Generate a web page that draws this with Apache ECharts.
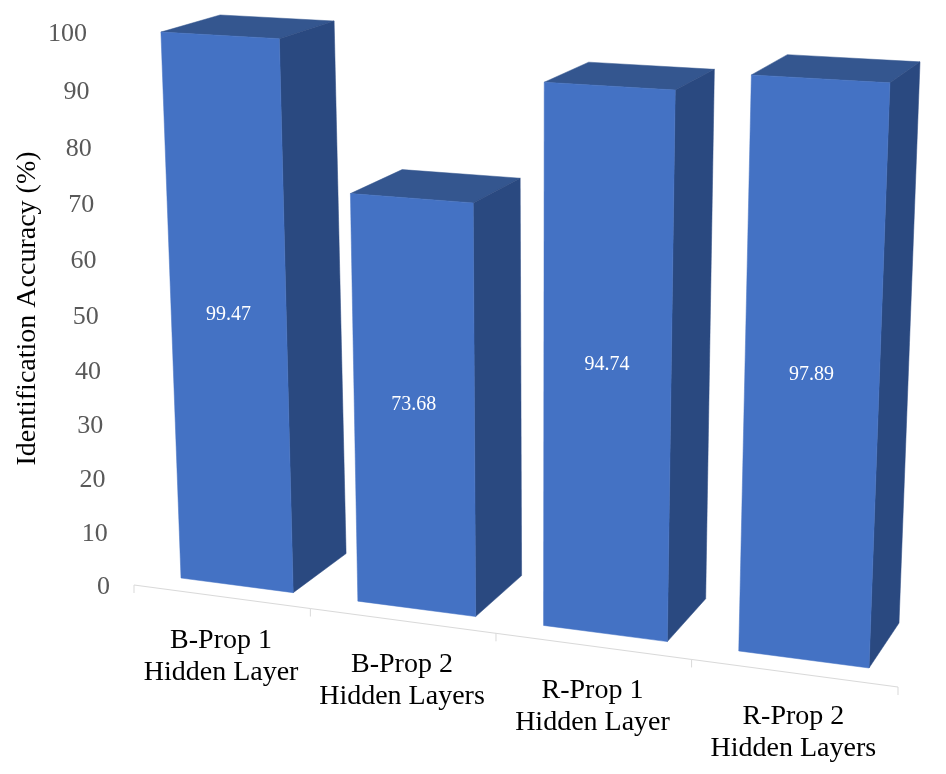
<!DOCTYPE html>
<html>
<head>
<meta charset="utf-8">
<style>html,body{margin:0;padding:0;background:#fff}#chart{width:946px;height:774px}</style>
<script src="https://cdn.jsdelivr.net/npm/echarts@6/dist/echarts.min.js"></script>
</head>
<body>
<div id="chart"></div>
<script>
// ---- data ----
const categories = ['B-Prop 1\nHidden Layer', 'B-Prop 2\nHidden Layers', 'R-Prop 1\nHidden Layer', 'R-Prop 2\nHidden Layers'];
const accuracy = [99.47, 73.68, 94.74, 97.89];
const yTicks = [0, 10, 20, 30, 40, 50, 60, 70, 80, 90, 100];
const yTitle = 'Identification Accuracy (%)';

// ---- scene: how the flat grid is seen in perspective ----
const GRID = {left: 60, top: 32, width: 846, height: 553};
const BAR_SHARE = 0.64;            // bar width as a share of one category cell
const LAST_EDGE = 3 + BAR_SHARE;
const FONT = '"Liberation Serif","Times New Roman",serif';
// planes given by corners: (u=0,v=0), (u=end,v=0), (u=end,v=100), (u=0,v=100)
const frontPlane = quad([[181,578],[869,668],[890.4,69.4],[160.8,29]]);
const backPlane  = quad([[238,540],[899,623],[920.5,49],[220,12]]);
// axis rim: a line along the floor and a line up the value labels, with foreshortening
const RIM = {a:[134,585], b:[898,687], k:-0.0996};
const VALS = {a:[110,587], b:[87,34], k:-0.047};

function quad(p){
  const [[x0,y0],[x1,y1],[x2,y2],[x3,y3]] = p;
  const dx1=x1-x2, dx2=x3-x2, sx=x0-x1+x2-x3, dy1=y1-y2, dy2=y3-y2, sy=y0-y1+y2-y3;
  const den=dx1*dy2-dx2*dy1, g=(sx*dy2-dx2*sy)/den, h=(dx1*sy-sx*dy1)/den;
  const a=x1-x0+g*x1, b=x3-x0+h*x3, d=y1-y0+g*y1, e=y3-y0+h*y3;
  return (s,t)=>{const w=g*s+h*t+1; return [(a*s+b*t+x0)/w,(d*s+e*t+y0)/w];};
}
function along(line,t){
  const s=t*(1+line.k)/(1+line.k*t);
  return [line.a[0]+s*(line.b[0]-line.a[0]), line.a[1]+s*(line.b[1]-line.a[1])];
}
// grid pixel from the library's scales -> 0..1 fractions
function frac(api,u,v){
  const c=api.coord([u,v]), o=api.coord([0,0]), e=api.coord([4,100]);
  return [(c[0]-o[0])/(e[0]-o[0]), (c[1]-o[1])/(e[1]-o[1])];
}
function planePoint(plane,api,u,v){
  const f=frac(api,u,v);
  return plane(f[0]*4/LAST_EDGE, f[1]);
}
function poly(points,fill){
  return {type:'polygon',shape:{points},style:{fill,stroke:fill,lineWidth:0.5}};
}
function txt(x,y,text,fill,size,align,lh){
  return {type:'text',style:{x,y,text,fill,font:size+'px '+FONT,textAlign:align,textVerticalAlign:'middle',lineHeight:lh}};
}

function renderBar(params,api){
  const i=api.value(0), v=api.value(1), u0=i, u1=i+BAR_SHARE;
  const F=(u,w)=>planePoint(frontPlane,api,u,w), B=(u,w)=>planePoint(backPlane,api,u,w);
  const mid=F(i+BAR_SHARE/2,v/2);
  return {type:'group',children:[
    poly([F(u0,v),F(u1,v),B(u1,v),B(u0,v)],'#34568F'),
    poly([F(u1,v),F(u1,0),B(u1,0),B(u1,v)],'#2A4980'),
    poly([F(u0,0),F(u1,0),F(u1,v),F(u0,v)],'#4472C4'),
    txt(mid[0],mid[1]-3,v.toFixed(2),'#FFFFFF',20,'center')
  ]};
}
function renderRim(params,api){
  const i=api.value(0), c=[];
  if(i<categories.length){
    const p=along(RIM,i/4), q=along(RIM,(i+1)/4);
    c.push({type:'line',shape:{x1:p[0],y1:p[1],x2:q[0],y2:q[1]},style:{stroke:'#D9D9D9',lineWidth:1}});
    const m=along(RIM,(i+0.5)/4);
    c.push(txt(m[0],m[1]+60,categories[i],'#000000',28,'center',32));
  }
  const p=along(RIM,i/4);
  c.push({type:'line',shape:{x1:p[0],y1:p[1],x2:p[0],y2:p[1]+8},style:{stroke:'#D9D9D9',lineWidth:1}});
  return {type:'group',children:c};
}
function renderValueLabel(params,api){
  const v=api.value(0), p=along(VALS,v/100);
  return txt(p[0],p[1],String(v),'#595959',26,'right');
}

const chart=echarts.init(document.getElementById('chart'));
chart.setOption({
  animation:false,
  backgroundColor:'#fff',
  grid:{left:GRID.left,top:GRID.top,width:GRID.width,height:GRID.height,containLabel:false,outerBoundsMode:'none'},
  xAxis:{type:'value',min:0,max:4,show:false},
  yAxis:{type:'value',min:0,max:100,interval:10,
    axisLine:{show:false},axisTick:{show:false},axisLabel:{show:false},splitLine:{show:false},
    name:yTitle,nameLocation:'middle',nameGap:18,
    nameTextStyle:{fontFamily:FONT,fontSize:28,color:'#000'}},
  series:[
    {type:'custom',coordinateSystem:'cartesian2d',clip:false,silent:true,
     data:[0,1,2,3,4].map(i=>[i,0]),renderItem:renderRim,z:1},
    {type:'custom',coordinateSystem:'none',silent:true,
     data:yTicks.map(v=>[v]),renderItem:renderValueLabel,z:2},
    {type:'custom',coordinateSystem:'cartesian2d',clip:false,silent:true,
     data:accuracy.map((v,i)=>[i,v]),renderItem:renderBar,z:3}
  ]
});
</script>
</body>
</html>
